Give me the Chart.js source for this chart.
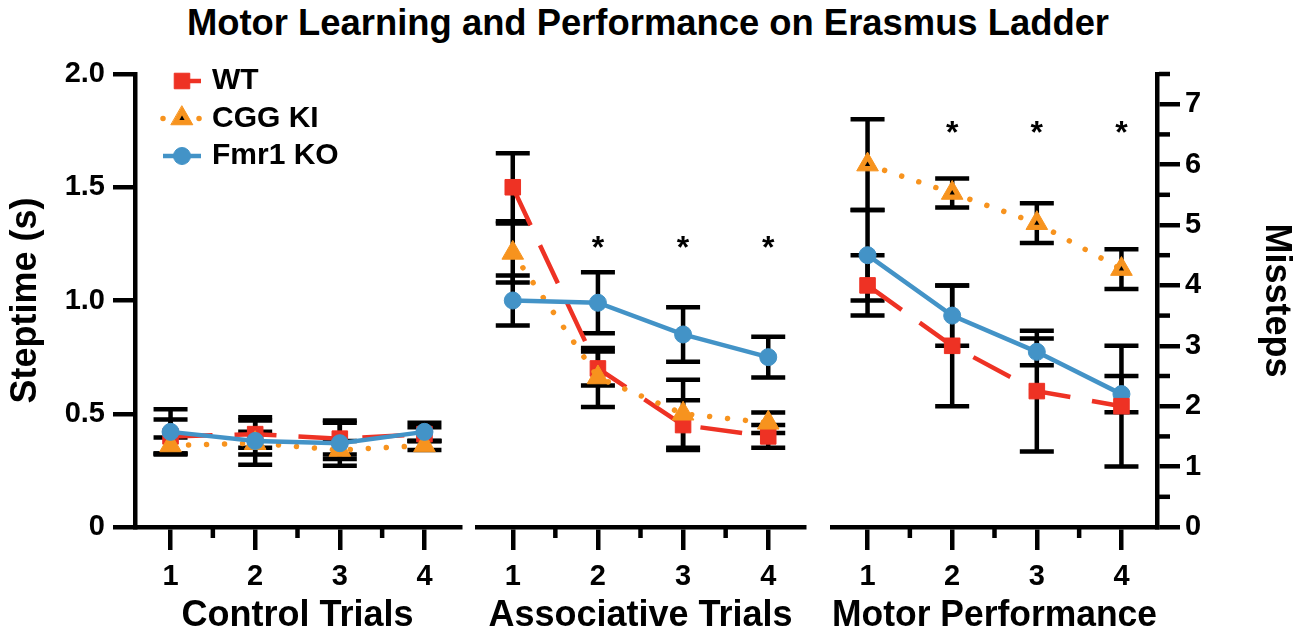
<!DOCTYPE html>
<html><head><meta charset="utf-8">
<script src="https://cdn.jsdelivr.net/npm/chart.js@4.4.1/dist/chart.umd.min.js"></script>
<style>
html,body{margin:0;padding:0;background:#fff;width:1303px;height:634px;overflow:hidden}
#wrap{position:relative;width:1303px;height:634px}
canvas{position:absolute;left:0;top:0}
#title{position:absolute;left:0;top:3px;width:1296px;text-align:center;font:bold 36.4px/40px "Liberation Sans",Arial,sans-serif;color:#000;white-space:nowrap}
</style></head>
<body><div id="wrap">
<div id="title">Motor Learning and Performance on Erasmus Ladder</div>
<canvas id="c1" width="1303" height="634"></canvas>
<canvas id="c2" width="1303" height="634"></canvas>
<canvas id="c3" width="1303" height="634"></canvas>
</div>
<script>
// ---------- data ----------
const trials = [1, 2, 3, 4];
const trialLabels = ['1', '2', '3', '4'];
const groupNames = ['WT', 'CGG KI', 'Fmr1 KO'];
const panelTitles = ['Control Trials', 'Associative Trials', 'Motor Performance'];
const steptimeTicks = [0, 0.5, 1.0, 1.5, 2.0];
const steptimeTickLabels = ['0', '0.5', '1.0', '1.5', '2.0'];
const misstepTicks = [0, 1, 2, 3, 4, 5, 6, 7];
const misstepTickLabels = ['0', '1', '2', '3', '4', '5', '6', '7'];

// Control trials: steptime (s), mean and error
const wtControl = [0.40, 0.41, 0.39, 0.41];
const wtControlErr = [0.075, 0.06, 0.07, 0.03];
const cggControl = [0.36, 0.37, 0.34, 0.36];
const cggControlErr = [0.035, 0.05, 0.04, 0.02];
const koControl = [0.42, 0.38, 0.37, 0.42];
const koControlErr = [0.10, 0.105, 0.10, 0.04];

// Associative trials: steptime (s)
const wtAssoc = [1.50, 0.70, 0.45, 0.40];
const wtAssocErr = [0.15, 0.075, 0.11, 0.05];
const cggAssoc = [1.21, 0.66, 0.50, 0.46];
const cggAssocErr = [0.13, 0.13, 0.15, 0.045];
const koAssoc = [1.00, 0.99, 0.85, 0.75];
const koAssocErr = [0.11, 0.135, 0.12, 0.09];

// Motor performance: missteps
const wtMotor = [4.0, 3.0, 2.25, 2.0];
const wtMotorErr = [0.5, 1.0, 1.0, 1.0];
const cggMotor = [6.0, 5.53, 5.03, 4.27];
const cggMotorErr = [0.75, 0.24, 0.33, 0.33];
const koMotor = [4.5, 3.5, 2.9, 2.2];
const koMotorErr = [0.75, 0.5, 0.22, 0.3];

// significance marks
const assocSig = ['', '*', '*', '*'];
const assocSigLevel = 1.27;   // steptime units
const motorSig = ['', '*', '*', '*'];
const motorSigLevel = 6.66;   // missteps units

// ---------- styles ----------
const FONT = '"Liberation Sans", Arial, Helvetica, sans-serif';
Chart.defaults.font.family = FONT;
Chart.defaults.color = '#000';

const styles = {
  wt:  {color: '#ee3224', pointStyle: 'rect', pointRadius: 11, borderWidth: 4.5, borderDash: [42, 22], cap: 'butt', legendDashOffset: 48},
  cgg: {color: '#f7931e', pointStyle: 'triangle', pointRadius: 12.5, borderWidth: 5.5, borderDash: [0.01, 18], cap: 'round', legendDashOffset: 0},
  ko:  {color: '#4393c7', pointStyle: 'circle', pointRadius: 8.5, borderWidth: 4.5, borderDash: [], cap: 'butt', legendDashOffset: 0}
};

function series(label, vals, errs, st, order, yAxisID, innerMark) {
  return {
    label, order, yAxisID, innerMark: !!innerMark,
    data: trials.map((t, i) => ({x: t, y: vals[i]})),
    errors: errs,
    borderColor: st.color, backgroundColor: st.color,
    pointBackgroundColor: st.color, pointBorderColor: st.color, pointBorderWidth: 1,
    pointStyle: st.pointStyle, pointRadius: st.pointRadius, pointHoverRadius: st.pointRadius,
    borderWidth: st.borderWidth, borderDash: st.borderDash, borderCapStyle: st.cap,
    legendDashOffset: st.legendDashOffset,
    tension: 0, fill: false, clip: false
  };
}

// ---------- plugins ----------
const errorBars = {
  id: 'errorBars',
  beforeDatasetsDraw(chart) {
    const ctx = chart.ctx;
    ctx.save();
    ctx.strokeStyle = '#000';
    ctx.lineWidth = 4.5;
    ctx.lineCap = 'butt';
    chart.data.datasets.forEach((d, di) => {
      const meta = chart.getDatasetMeta(di);
      const ys = chart.scales[meta.yAxisID];
      meta.data.forEach((el, j) => {
        const v = d.data[j].y, e = d.errors[j];
        const x = el.x;
        const yt = ys.getPixelForValue(v + e), yb = ys.getPixelForValue(v - e);
        ctx.beginPath();
        ctx.moveTo(x, yt); ctx.lineTo(x, yb);
        ctx.moveTo(x - 17, yt); ctx.lineTo(x + 17, yt);
        ctx.moveTo(x - 17, yb); ctx.lineTo(x + 17, yb);
        ctx.stroke();
      });
    });
    ctx.restore();
  }
};

const innerMarks = {
  id: 'innerMarks',
  afterDatasetsDraw(chart) {
    const ctx = chart.ctx;
    chart.data.datasets.forEach((d, di) => {
      if (!d.innerMark) return;
      chart.getDatasetMeta(di).data.forEach(el => {
        ctx.save();
        ctx.fillStyle = '#000'; ctx.strokeStyle = '#000';
        Chart.helpers.drawPoint(ctx, {pointStyle: 'triangle', radius: 3, rotation: 0, borderWidth: 0}, el.x, el.y);
        ctx.restore();
      });
    });
  }
};

const minorTicks = {
  id: 'minorTicks',
  afterDraw(chart, args, opts) {
    const ctx = chart.ctx;
    ctx.save();
    ctx.strokeStyle = '#000';
    ctx.lineWidth = 4.5;
    (opts.items || []).forEach(it => {
      const s = chart.scales[it.axis];
      it.values.forEach(v => {
        const p = s.getPixelForValue(v);
        ctx.beginPath();
        if (s.isHorizontal()) { ctx.moveTo(p, s.top + 2); ctx.lineTo(p, s.top + it.len); }
        else { ctx.moveTo(s.left + 2, p); ctx.lineTo(s.left + it.len, p); }
        ctx.stroke();
      });
    });
    ctx.restore();
  }
};

const sigMarks = {
  id: 'sigMarks',
  afterDatasetsDraw(chart, args, opts) {
    if (!opts.labels) return;
    const ctx = chart.ctx;
    const xs = chart.scales.x, ys = chart.scales[opts.axis];
    ctx.save();
    ctx.fillStyle = '#000';
    ctx.font = 'bold 32px ' + FONT;
    ctx.textAlign = 'center';
    ctx.textBaseline = 'alphabetic';
    trials.forEach((t, i) => {
      if (!opts.labels[i]) return;
      ctx.fillText(opts.labels[i], xs.getPixelForValue(t), ys.getPixelForValue(opts.level) + 0.575 * 32);
    });
    ctx.restore();
  }
};

const customLegend = {
  id: 'customLegend',
  afterDraw(chart, args, opts) {
    if (!opts.show) return;
    const ctx = chart.ctx;
    chart.data.datasets.forEach((d, i) => {
      const y = opts.y0 + i * opts.dy;
      ctx.save();
      ctx.strokeStyle = d.borderColor;
      ctx.lineWidth = d.borderWidth;
      ctx.setLineDash(d.borderDash || []);
      ctx.lineDashOffset = d.legendDashOffset || 0;
      ctx.lineCap = d.borderCapStyle || 'butt';
      ctx.beginPath(); ctx.moveTo(opts.x0, y); ctx.lineTo(opts.x1, y); ctx.stroke();
      ctx.setLineDash([]);
      ctx.fillStyle = d.backgroundColor; ctx.lineWidth = 1;
      const cx = (opts.x0 + opts.x1) / 2;
      Chart.helpers.drawPoint(ctx, {pointStyle: d.pointStyle, radius: d.pointRadius, rotation: 0, borderWidth: 1}, cx, y);
      if (d.pointStyle === 'triangle') {
        ctx.fillStyle = '#000'; ctx.strokeStyle = '#000';
        Chart.helpers.drawPoint(ctx, {pointStyle: 'triangle', radius: 3, rotation: 0, borderWidth: 0}, cx, y);
      }
      ctx.fillStyle = '#000';
      ctx.font = 'bold 30px ' + FONT;
      ctx.textAlign = 'left';
      ctx.textBaseline = 'middle';
      ctx.fillText(d.label, opts.tx, y);
      ctx.restore();
    });
  }
};

// ---------- scales ----------
const AXW = 4.5;
function xScale(title) {
  return {
    type: 'linear', position: 'bottom', min: 0.58, max: 4.42,
    afterBuildTicks: s => { s.ticks = trials.map(v => ({value: v})); },
    afterFit: s => { s.height = 107; },
    border: {display: true, color: '#000', width: AXW},
    grid: {display: true, drawOnChartArea: false, drawTicks: true, tickLength: 23, color: '#000', lineWidth: AXW, tickWidth: AXW, tickColor: '#000'},
    ticks: {callback: (v, i) => trialLabels[i], color: '#000', font: {size: 29, weight: 'bold'}, padding: 10, maxRotation: 0, autoSkip: false},
    title: {display: true, text: title, color: '#000', font: {size: 36, weight: 'bold', lineHeight: 1}, padding: {top: 0, bottom: 0}}
  };
}
const leftY = {
  type: 'linear', position: 'left', min: 0, max: 2,
  afterBuildTicks: s => { s.ticks = steptimeTicks.map(v => ({value: v})); },
  afterFit: s => { s.width = 135; },
  border: {display: true, color: '#000', width: AXW},
  grid: {display: true, drawOnChartArea: false, drawTicks: true, tickLength: 22, color: '#000', lineWidth: AXW, tickWidth: AXW, tickColor: '#000'},
  ticks: {callback: (v, i) => steptimeTickLabels[i], color: '#000', font: {size: 29, weight: 'bold'}, padding: 8},
  title: {display: true, text: 'Steptime (s)', color: '#000', font: {size: 36, weight: 'bold', lineHeight: 1}, padding: {top: 8, bottom: 0}}
};
const rightY = {
  type: 'linear', position: 'right', min: 0, max: 7.5,
  afterBuildTicks: s => { s.ticks = misstepTicks.map(v => ({value: v})); },
  afterFit: s => { s.width = 146; },
  border: {display: true, color: '#000', width: AXW},
  grid: {display: true, drawOnChartArea: false, drawTicks: true, tickLength: 23, color: '#000', lineWidth: AXW, tickWidth: AXW, tickColor: '#000'},
  ticks: {callback: (v, i) => misstepTickLabels[i], color: '#000', font: {size: 29, weight: 'bold'}, padding: 5},
  title: {display: true, text: 'Missteps', color: '#000', font: {size: 36, weight: 'bold', lineHeight: 1}, padding: {top: 9, bottom: 0}}
};

const xMinor = {axis: 'x', values: [1.5, 2.5, 3.5], len: 11};

function baseOptions(padding, scales, extra) {
  return {
    responsive: false, animation: false, events: [],
    layout: {padding},
    scales,
    plugins: Object.assign({legend: {display: false}, title: {display: false}, tooltip: {enabled: false}}, extra)
  };
}

// Panel 1: Control trials
new Chart(document.getElementById('c1'), {
  type: 'line',
  data: {datasets: [
    series(groupNames[0], wtControl, wtControlErr, styles.wt, 3, 'y'),
    series(groupNames[1], cggControl, cggControlErr, styles.cgg, 2, 'y'),
    series(groupNames[2], koControl, koControlErr, styles.ko, 1, 'y')
  ]},
  options: baseOptions({left: 0, top: 74, right: 843, bottom: 0},
    {x: xScale(panelTitles[0]), y: leftY},
    {minorTicks: {items: [xMinor]}, customLegend: {show: true, x0: 163, x1: 201, y0: 81, dy: 37.5, tx: 212}, sigMarks: {}}),
  plugins: [errorBars, minorTicks, customLegend, sigMarks]
});

// Panel 2: Associative trials
new Chart(document.getElementById('c2'), {
  type: 'line',
  data: {datasets: [
    series(groupNames[0], wtAssoc, wtAssocErr, styles.wt, 3, 'y'),
    series(groupNames[1], cggAssoc, cggAssocErr, styles.cgg, 2, 'y'),
    series(groupNames[2], koAssoc, koAssocErr, styles.ko, 1, 'y')
  ]},
  options: baseOptions({left: 477, top: 74, right: 499, bottom: 0},
    {x: xScale(panelTitles[1]), y: {type: 'linear', display: false, min: 0, max: 2}},
    {minorTicks: {items: [xMinor]}, sigMarks: {labels: assocSig, level: assocSigLevel, axis: 'y'}}),
  plugins: [errorBars, minorTicks, sigMarks]
});

// Panel 3: Motor performance (missteps, right axis)
new Chart(document.getElementById('c3'), {
  type: 'line',
  data: {datasets: [
    series(groupNames[0], wtMotor, wtMotorErr, styles.wt, 2, 'y'),
    series(groupNames[1], cggMotor, cggMotorErr, styles.cgg, 1, 'y', true),
    series(groupNames[2], koMotor, koMotorErr, styles.ko, 3, 'y')
  ]},
  options: baseOptions({left: 832, top: 74, right: 0, bottom: 0},
    {x: xScale(panelTitles[2]), y: rightY},
    {minorTicks: {items: [xMinor, {axis: 'y', values: [0.5, 1.5, 2.5, 3.5, 4.5, 5.5, 6.5, 7.5], len: 13}]},
     sigMarks: {labels: motorSig, level: motorSigLevel, axis: 'y'}}),
  plugins: [errorBars, innerMarks, minorTicks, sigMarks]
});
</script>
</body></html>
